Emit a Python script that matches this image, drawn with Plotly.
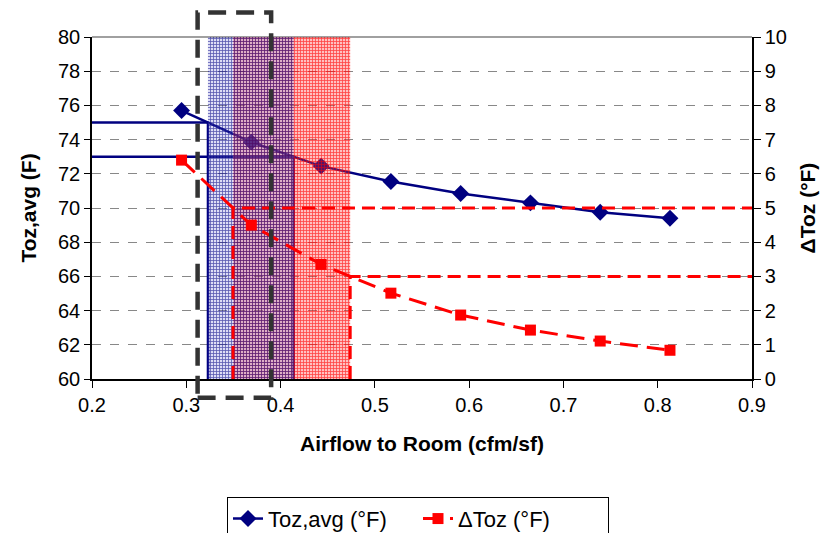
import numpy as np
import plotly.graph_objects as go

# Airflow delivered to the room (cfm/sf)
airflow = [0.295, 0.369, 0.443, 0.517, 0.591, 0.665, 0.739, 0.813]
# Average occupied-zone temperature (°F), left axis
toz_avg = [75.7, 73.85, 72.45, 71.55, 70.85, 70.3, 69.75, 69.4]
# Occupied-zone temperature spread (°F), right axis
delta_toz = [6.4, 4.5, 3.35, 2.51, 1.87, 1.43, 1.11, 0.84]

# Design limits
toz_limits = [75, 73]
delta_limits = [5, 3]

NAVY = "#000080"
RED = "#FF0000"
FONT = "Liberation Sans, Arial, sans-serif"


def crossing(xs, ys, level):
    # airflow where a decreasing curve reaches the given level
    return float(np.interp(level, ys[::-1], xs[::-1]))


toz_x = [crossing(airflow, toz_avg, v) for v in toz_limits]
delta_x = [crossing(airflow, delta_toz, v) for v in delta_limits]

fig = go.Figure()

# limit lines for the average temperature
for lv, xc in zip(toz_limits, toz_x):
    fig.add_trace(go.Scatter(
        x=[0.2, xc, xc], y=[lv, lv, 60], mode="lines",
        line=dict(color=NAVY, width=2.5), showlegend=False, hoverinfo="skip"))

# limit lines for the temperature spread
for lv, xc in zip(delta_limits, delta_x):
    fig.add_trace(go.Scatter(
        x=[xc, xc, 0.9], y=[0, lv, lv], mode="lines", yaxis="y2",
        line=dict(color=RED, width=3, dash="13px,7px"),
        showlegend=False, hoverinfo="skip"))

fig.add_trace(go.Scatter(
    x=airflow, y=toz_avg, mode="lines+markers", name="Toz,avg (°F)",
    line=dict(color=NAVY, width=2.5),
    marker=dict(symbol="diamond", size=13, color=NAVY)))

fig.add_trace(go.Scatter(
    x=airflow, y=delta_toz, mode="lines+markers", name="ΔToz (°F)", yaxis="y2",
    line=dict(color=RED, width=3, dash="18px,9px"),
    marker=dict(symbol="square", size=11, color=RED)))

# hatched acceptable ranges (spread range first, temperature range on top)
bands = [
    (delta_x[0], delta_x[1], RED, 0.65, "rgba(255,60,60,0.32)"),
    (toz_x[0], toz_x[1], NAVY, 0.6, "rgba(120,120,215,0.25)"),
]
for x0, x1, col, op, bg in bands:
    fig.add_trace(go.Scatter(
        x=[x0, x1, x1, x0, x0], y=[60, 60, 80, 80, 60], mode="lines",
        fill="toself", line=dict(width=0), fillcolor=bg,
        fillpattern=dict(shape="+", size=3, solidity=0.45, fgcolor=col,
                         fgopacity=op, bgcolor=bg),
        showlegend=False, hoverinfo="skip"))

# highlight box around the chosen airflow
fig.add_shape(type="rect", xref="x", yref="paper",
              x0=0.312, x1=0.39, y0=-0.055, y1=1.072,
              line=dict(color="#333333", width=4.5, dash="18px,10px"),
              fillcolor="rgba(0,0,0,0)", layer="above")

# top border of the plotting area
fig.add_shape(type="line", xref="paper", yref="paper", x0=0, x1=1, y0=1, y1=1,
              line=dict(color="#808080", width=1.5), layer="below")

fig.update_layout(
    width=831, height=533,
    margin=dict(l=92, r=79, t=37, b=154, autoexpand=False),
    paper_bgcolor="white", plot_bgcolor="white",
    font=dict(family=FONT, size=20, color="black"),
    xaxis=dict(
        range=[0.2, 0.9], dtick=0.1, tickformat=".1f",
        showgrid=False, zeroline=False,
        showline=True, linecolor="black", linewidth=1.5,
        ticks="outside", ticklen=7, tickcolor="black",
        title=dict(text="<b>Airflow to Room (cfm/sf)</b>", font=dict(size=21), standoff=22),
    ),
    yaxis=dict(
        range=[60, 80], dtick=2,
        showgrid=True, gridcolor="#888888", griddash="dash", gridwidth=1,
        zeroline=False, showline=True, linecolor="black", linewidth=1.5,
        ticks="outside", ticklen=6, tickcolor="black",
        title=dict(text="<b>Toz,avg (F)</b>", font=dict(size=21), standoff=16),
    ),
    yaxis2=dict(
        range=[0, 10], dtick=1, overlaying="y", side="right",
        showgrid=False, zeroline=False,
        showline=True, linecolor="black", linewidth=1.5,
        ticks="outside", ticklen=7, tickcolor="black",
        title=dict(text="<b>ΔToz (°F)</b>", font=dict(size=21), standoff=14),
    ),
    legend=dict(
        orientation="h", xref="container", yref="container",
        x=0.503, xanchor="center", y=0.068, yanchor="top",
        bordercolor="black", borderwidth=1, bgcolor="white",
        font=dict(size=22), entrywidth=145,
    ),
    showlegend=True,
)

fig.write_html("out.html")
